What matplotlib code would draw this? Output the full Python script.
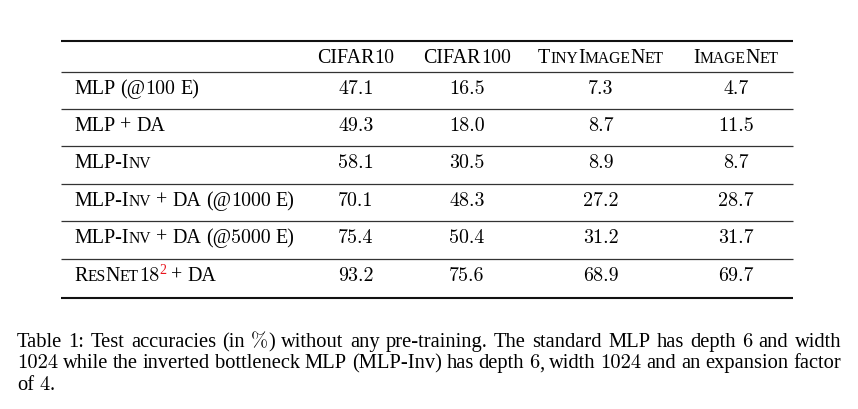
"""
Table 1 re-drawn as a figure: test accuracies without pre-training.
"""

import matplotlib
matplotlib.use("Agg")
import matplotlib.pyplot as plt

# ---------- Style ----------
SERIF = "Liberation Serif"
CM = "cmr10"          # Computer Modern for the math-mode digits
FS = 14.4             # table text size in pt (fig dpi = 100)
CAP_FS = 14.8         # caption text size
SC_SCALE = 0.78       # small-caps letter size
RED = "#e8141c"

# ---------- Data ----------
# markup: <...> small caps, |...| Computer Modern, ^...^ red superscript
columns = ["CIFAR|10|", "CIFAR|100|", "<TinyImageNet>", "<ImageNet>"]
row_labels = [
    "MLP (@|100| E)",
    "MLP + DA",
    "MLP-<Inv>",
    "MLP-<Inv> + DA (@|1000| E)",
    "MLP-<Inv> + DA (@|5000| E)",
    "<ResNet>|18|^2^ + DA",
]
cifar10 = [47.1, 49.3, 58.1, 70.1, 75.4, 93.2]
cifar100 = [16.5, 18.0, 30.5, 48.3, 50.4, 75.6]
tiny_imagenet = [7.3, 8.7, 8.9, 27.2, 31.2, 68.9]
imagenet = [4.7, 11.5, 8.7, 28.7, 31.7, 69.7]

caption_lines = [
    "Table 1: Test accuracies (in |%|) without any pre-training. The standard MLP has depth |6| and width",
    "|1024| while the inverted bottleneck MLP (MLP-Inv) has depth |6|, width |1024| and an expansion factor",
    "of |4|.",
]

# ---------- Layout (pixels, y downwards) ----------
W, H = 858, 410
RULE_X = (61, 793)
RULES_Y = [42, 73, 110, 147, 185, 222, 260, 299]
COL_X = [356, 467, 601, 736]
LABEL_X = 74
BASE_OFF = 21         # baseline below the rule above
CAP_X = (17, 841)
CAP_Y = [347, 368.5, 390]


def parse(s):
    """Split a marked-up string into words, each a list of (text, style)."""
    words, cur = [], []
    sc = cm = sup = False
    for ch in s:
        if ch == "<":
            sc = True; continue
        if ch == ">":
            sc = False; continue
        if ch == "|":
            cm = not cm; continue
        if ch == "^":
            sup = not sup; continue
        if ch == " ":
            words.append(cur); cur = []; continue
        scale, fam, color, dy = 1.0, SERIF, "black", 0
        if cm:
            fam = CM
        if sc and ch.islower():
            ch, scale = ch.upper(), SC_SCALE
        if sup:
            scale, color, dy = 0.7, RED, -7
        style = (fam, scale, color, dy)
        if cur and cur[-1][1] == style:
            cur[-1] = (cur[-1][0] + ch, style)
        else:
            cur.append((ch, style))
    words.append(cur)
    return words


def measure(ax, renderer, text, style, size):
    fam, scale, color, dy = style
    t = ax.text(0, 0, text, family=fam, fontsize=size * scale)
    w = t.get_window_extent(renderer).width
    t.remove()
    return w


def draw(ax, renderer, s, x, y, ha="left", justify_to=None, size=FS):
    words = parse(s)
    widths = [[measure(ax, renderer, t, st, size) for t, st in wd] for wd in words]
    word_w = [sum(ws) for ws in widths]
    gap = 0.25 * size * 100 / 72
    if justify_to is not None and len(words) > 1:
        gap = (justify_to - x - sum(word_w)) / (len(words) - 1)
    total = sum(word_w) + gap * (len(words) - 1)
    if ha == "center":
        x -= total / 2
    for wd, ws in zip(words, widths):
        for (t, (fam, scale, color, dy)), w in zip(wd, ws):
            ax.text(x, y + dy, t, family=fam, fontsize=size * scale,
                    color=color, va="baseline", ha="left")
            x += w
        x += gap


fig = plt.figure(figsize=(W / 100, H / 100), dpi=100)
ax = fig.add_axes([0, 0, 1, 1])
ax.set_xlim(0, W)
ax.set_ylim(H, 0)
ax.axis("off")
renderer = fig.canvas.get_renderer()

# rules: heavy top/bottom, light in between
for i, y in enumerate(RULES_Y):
    heavy = i in (0, len(RULES_Y) - 1)
    ax.hlines(y, *RULE_X, color="#111" if heavy else "#333",
              lw=1.5 if heavy else 0.9)

# header
for cx, name in zip(COL_X, columns):
    draw(ax, renderer, name, cx, RULES_Y[0] + BASE_OFF, ha="center")

# body
series = [cifar10, cifar100, tiny_imagenet, imagenet]
for r, label in enumerate(row_labels):
    y = RULES_Y[r + 1] + BASE_OFF
    draw(ax, renderer, label, LABEL_X, y)
    for cx, vals in zip(COL_X, series):
        draw(ax, renderer, f"|{vals[r]:.1f}|", cx, y, ha="center")

# caption, first two lines justified
for i, (line, y) in enumerate(zip(caption_lines, CAP_Y)):
    draw(ax, renderer, line, CAP_X[0], y, size=CAP_FS,
         justify_to=CAP_X[1] if i < len(caption_lines) - 1 else None)

fig.savefig("out.png", dpi=100)
plt.close(fig)
